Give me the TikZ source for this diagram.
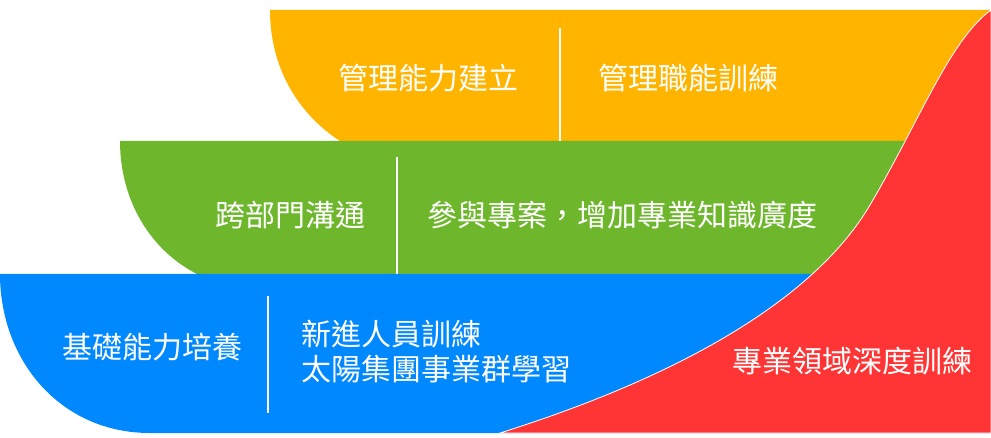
\documentclass[tikz,border=0pt]{standalone}
\usepackage{fontspec}
\newfontfamily\cjk{Noto Sans CJK TC}
\definecolor{bandorange}{RGB}{255,180,0}
\definecolor{bandgreen}{RGB}{110,183,45}
\definecolor{bandblue}{RGB}{0,136,255}
\definecolor{bandred}{RGB}{255,52,52}

\begin{document}
\begin{tikzpicture}[x=1pt,y=-1pt,
	label/.style={text=white,inner sep=0pt,font=\cjk\fontsize{30}{35}\selectfont},
	divider/.style={draw=white,line width=1.6pt}]
	\useasboundingbox[fill=white] (0,0) rectangle (991,438);
	% the three bands
	\fill[bandorange] (270,10) .. controls (270,70) and (300,115) .. (340,141) -- (991,141) -- (991,10) -- cycle;
	\fill[bandgreen] (120,141) .. controls (120,200) and (150,250) .. (197,274) -- (991,274) -- (991,141) -- cycle;
	\fill[bandblue] (0,274) .. controls (0,360) and (60,433) .. (150,433) -- (991,433) -- (991,274) -- cycle;
	% the deep training curve
	\filldraw[fill=bandred,draw=white,line width=0.8pt] (500,433) .. controls (700,370) and (820,290) .. (870,205)
		.. controls (920,120) and (950,40) .. (991,10) -- (991,433) -- cycle;
	% dividers
	\foreach \xpos/\ya/\yb in {560/28/141, 397/157/274, 268/296/413} {
		\draw[divider] (\xpos,\ya) -- (\xpos,\yb);
	}
	% texts
	\node[label] (mgmtbase) at (428,78) {管理能力建立};
	\node[label] (mgmttrain) at (688,78) {管理職能訓練};
	\node[label] (crossdept) at (290,215) {跨部門溝通};
	\node[label] (project) at (622,215) {參與專案，增加專業知識廣度};
	\node[label] (basic) at (152,347) {基礎能力培養};
	\node[label,anchor=west,align=left] (newstaff) at (301,352) {新進人員訓練\\太陽集團事業群學習};
	\node[label] (deep) at (852,361) {專業領域深度訓練};
\end{tikzpicture}
\end{document}
